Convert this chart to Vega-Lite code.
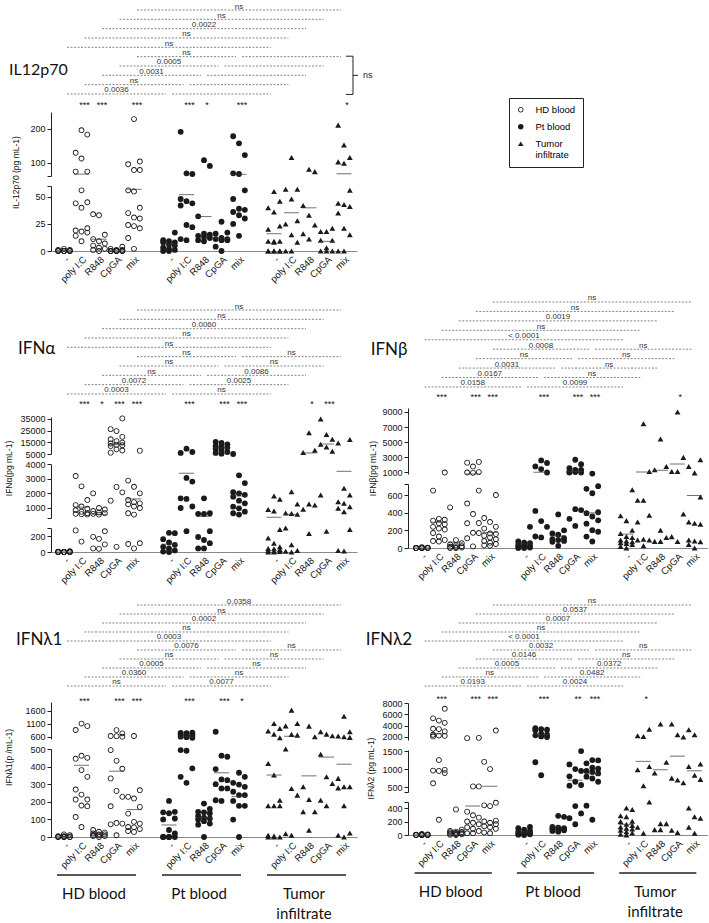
{
"$schema":"https://vega.github.io/schema/vega-lite/v6.json",
"padding":{"left":3,"top":0,"right":0,"bottom":0},
"config":{
 "view":{"stroke":null},
 "font":"Liberation Sans",
 "range":{"symbol":["M1,0A1,1,0,1,1,-1,0A1,1,0,1,1,1,0ZM0.7,0A0.7,0.7,0,1,0,-0.7,0A0.7,0.7,0,1,0,0.7,0Z","circle","triangle-up"]},
 "axis":{"grid":false,"labelFont":"Liberation Sans","titleFont":"Liberation Sans","labelColor":"#111","titleColor":"#111","titleFontWeight":"normal"},
 "axisY":{"labelFontSize":9,"tickSize":4,"domainColor":"#222","tickColor":"#222","labelPadding":2,"titleFontSize":8.5,"labelOverlap":false},
 "axisX":{"labelFontSize":9.5,"domainColor":"#888","ticks":false,"labelAngle":-45,"labelPadding":3,"labelOverlap":false},
 "legend":{"orient":"none","legendX":458,"legendY":98,"strokeColor":"#222","padding":7,"labelFontSize":9.5,"labelFont":"Liberation Sans","symbolSize":30,"rowPadding":5,"labelOffset":10}
},
"datasets":{
"struct":[
{"k":"1a","lvl":1,"from":"H4","to":"T4","mid":"P4"},
{"k":"2a","lvl":2,"from":"H3","to":"T3","mid":"P3"},
{"k":"3a","lvl":3,"from":"H2","to":"T2","mid":"P2"},
{"k":"4a","lvl":4,"from":"H1","to":"T1","mid":"P1"},
{"k":"5a","lvl":5,"from":"H0","to":"T0","mid":"P0"},
{"k":"6a","lvl":6,"from":"H4","to":"P4","mid":"P1"},
{"k":"6b","lvl":6,"from":"P4","to":"T4","mid":"T1"},
{"k":"7a","lvl":7,"from":"H3","to":"P3","mid":"P0"},
{"k":"7b","lvl":7,"from":"P3","to":"T3","mid":"T0"},
{"k":"8a","lvl":8,"from":"H2","to":"P2","mid":"s1"},
{"k":"8b","lvl":8,"from":"P2","to":"T2","mid":"s2"},
{"k":"9a","lvl":9,"from":"H1","to":"P1","mid":"H4"},
{"k":"9b","lvl":9,"from":"P1","to":"T1","mid":"P4"},
{"k":"10a","lvl":10,"from":"H0","to":"P0","mid":"H3"},
{"k":"10b","lvl":10,"from":"P0","to":"T0","mid":"P3"}
],
"sig":[
{"panel":"IL12p70","k":"1a","label":"ns"},{"panel":"IL12p70","k":"2a","label":"ns"},{"panel":"IL12p70","k":"3a","label":"0.0022"},{"panel":"IL12p70","k":"4a","label":"ns"},{"panel":"IL12p70","k":"5a","label":"ns"},
{"panel":"IL12p70","k":"6a","label":"ns"},{"panel":"IL12p70","k":"6b","label":""},{"panel":"IL12p70","k":"7a","label":"0.0005"},{"panel":"IL12p70","k":"7b","label":""},{"panel":"IL12p70","k":"8a","label":"0.0031"},{"panel":"IL12p70","k":"8b","label":""},{"panel":"IL12p70","k":"9a","label":"ns"},{"panel":"IL12p70","k":"9b","label":""},{"panel":"IL12p70","k":"10a","label":"0.0036"},{"panel":"IL12p70","k":"10b","label":""},
{"panel":"IFNa","k":"1a","label":"ns"},{"panel":"IFNa","k":"2a","label":"ns"},{"panel":"IFNa","k":"3a","label":"0.0060"},{"panel":"IFNa","k":"4a","label":"ns"},{"panel":"IFNa","k":"5a","label":"ns"},
{"panel":"IFNa","k":"6a","label":"ns"},{"panel":"IFNa","k":"6b","label":"ns"},{"panel":"IFNa","k":"7a","label":"ns"},{"panel":"IFNa","k":"7b","label":"ns"},{"panel":"IFNa","k":"8a","label":"ns"},{"panel":"IFNa","k":"8b","label":"0.0086"},{"panel":"IFNa","k":"9a","label":"0.0072"},{"panel":"IFNa","k":"9b","label":"0.0025"},{"panel":"IFNa","k":"10a","label":"0.0003"},{"panel":"IFNa","k":"10b","label":"ns"},
{"panel":"IFNb","k":"1a","label":"ns"},{"panel":"IFNb","k":"2a","label":"ns"},{"panel":"IFNb","k":"3a","label":"0.0019"},{"panel":"IFNb","k":"4a","label":"ns"},{"panel":"IFNb","k":"5a","label":"< 0.0001"},
{"panel":"IFNb","k":"6a","label":"0.0008"},{"panel":"IFNb","k":"6b","label":"ns"},{"panel":"IFNb","k":"7a","label":"ns"},{"panel":"IFNb","k":"7b","label":"ns"},{"panel":"IFNb","k":"8a","label":"0.0031"},{"panel":"IFNb","k":"8b","label":"ns"},{"panel":"IFNb","k":"9a","label":"0.0167"},{"panel":"IFNb","k":"9b","label":"ns"},{"panel":"IFNb","k":"10a","label":"0.0158"},{"panel":"IFNb","k":"10b","label":"0.0099"},
{"panel":"IFNl1","k":"1a","label":"0.0358"},{"panel":"IFNl1","k":"2a","label":"ns"},{"panel":"IFNl1","k":"3a","label":"0.0002"},{"panel":"IFNl1","k":"4a","label":"ns"},{"panel":"IFNl1","k":"5a","label":"0.0003"},
{"panel":"IFNl1","k":"6a","label":"0.0076"},{"panel":"IFNl1","k":"6b","label":"ns"},{"panel":"IFNl1","k":"7a","label":"ns"},{"panel":"IFNl1","k":"7b","label":"ns"},{"panel":"IFNl1","k":"8a","label":"0.0005"},{"panel":"IFNl1","k":"8b","label":"ns"},{"panel":"IFNl1","k":"9a","label":"0.0360"},{"panel":"IFNl1","k":"9b","label":"ns"},{"panel":"IFNl1","k":"10a","label":"ns"},{"panel":"IFNl1","k":"10b","label":"0.0077"},
{"panel":"IFNl2","k":"1a","label":"ns"},{"panel":"IFNl2","k":"2a","label":"0.0537"},{"panel":"IFNl2","k":"3a","label":"0.0007"},{"panel":"IFNl2","k":"4a","label":"ns"},{"panel":"IFNl2","k":"5a","label":"< 0.0001"},
{"panel":"IFNl2","k":"6a","label":"0.0032"},{"panel":"IFNl2","k":"6b","label":"ns"},{"panel":"IFNl2","k":"7a","label":"0.0146"},{"panel":"IFNl2","k":"7b","label":"ns"},{"panel":"IFNl2","k":"8a","label":"0.0005"},{"panel":"IFNl2","k":"8b","label":"0.0372"},{"panel":"IFNl2","k":"9a","label":"ns"},{"panel":"IFNl2","k":"9b","label":"0.0482"},{"panel":"IFNl2","k":"10a","label":"0.0193"},{"panel":"IFNl2","k":"10b","label":"0.0024"}
],
"stars":[
{"panel":"IL12p70","cat":"H1","label":"***"},{"panel":"IL12p70","cat":"H2","label":"***"},{"panel":"IL12p70","cat":"H4","label":"***"},{"panel":"IL12p70","cat":"P1","label":"***"},{"panel":"IL12p70","cat":"P2","label":"*"},{"panel":"IL12p70","cat":"P4","label":"***"},{"panel":"IL12p70","cat":"T4","label":"*"},
{"panel":"IFNa","cat":"H1","label":"***"},{"panel":"IFNa","cat":"H2","label":"*"},{"panel":"IFNa","cat":"H3","label":"***"},{"panel":"IFNa","cat":"H4","label":"***"},{"panel":"IFNa","cat":"P1","label":"***"},{"panel":"IFNa","cat":"P3","label":"***"},{"panel":"IFNa","cat":"P4","label":"***"},{"panel":"IFNa","cat":"T2","label":"*"},{"panel":"IFNa","cat":"T3","label":"***"},
{"panel":"IFNb","cat":"H1","label":"***"},{"panel":"IFNb","cat":"H3","label":"***"},{"panel":"IFNb","cat":"H4","label":"***"},{"panel":"IFNb","cat":"P1","label":"***"},{"panel":"IFNb","cat":"P3","label":"***"},{"panel":"IFNb","cat":"P4","label":"***"},{"panel":"IFNb","cat":"T3","label":"*"},
{"panel":"IFNl1","cat":"H1","label":"***"},{"panel":"IFNl1","cat":"H3","label":"***"},{"panel":"IFNl1","cat":"H4","label":"***"},{"panel":"IFNl1","cat":"P1","label":"***"},{"panel":"IFNl1","cat":"P3","label":"***"},{"panel":"IFNl1","cat":"P4","label":"*"},
{"panel":"IFNl2","cat":"H1","label":"***"},{"panel":"IFNl2","cat":"H3","label":"***"},{"panel":"IFNl2","cat":"H4","label":"***"},{"panel":"IFNl2","cat":"P1","label":"***"},{"panel":"IFNl2","cat":"P3","label":"**"},{"panel":"IFNl2","cat":"P4","label":"***"},{"panel":"IFNl2","cat":"T1","label":"*"}
],
"groups":[{"from":"H0","to":"H4","mid":"H2","label":"HD blood"},{"from":"P0","to":"P4","mid":"P2","label":"Pt blood"},{"from":"T0","to":"T4","mid":"T2","label":"Tumor\ninfiltrate"}],
"il12":[
{"cat":"H0","v":0},{"cat":"H0","v":0},{"cat":"H0","v":0},{"cat":"H0","v":0},{"cat":"H0","v":1},{"cat":"H0","v":1},{"cat":"H0","v":0},{"cat":"H0","v":0},{"cat":"H0","v":2},{"cat":"H0","v":0},
{"cat":"H1","v":196},{"cat":"H1","v":183},{"cat":"H1","v":129},{"cat":"H1","v":112},{"cat":"H1","v":73},{"cat":"H1","v":73},{"cat":"H1","v":56},{"cat":"H1","v":45},{"cat":"H1","v":44},{"cat":"H1","v":40},{"cat":"H1","v":21},{"cat":"H1","v":19},{"cat":"H1","v":18},{"cat":"H1","v":17},{"cat":"H1","v":14},{"cat":"H1","v":9},
{"cat":"H2","v":34},{"cat":"H2","v":33},{"cat":"H2","v":15},{"cat":"H2","v":11},{"cat":"H2","v":9},{"cat":"H2","v":7},{"cat":"H2","v":5},{"cat":"H2","v":3},{"cat":"H2","v":2},{"cat":"H2","v":1},{"cat":"H2","v":0},
{"cat":"H3","v":4},{"cat":"H3","v":2},{"cat":"H3","v":1},{"cat":"H3","v":1},{"cat":"H3","v":0},{"cat":"H3","v":0},{"cat":"H3","v":0},{"cat":"H3","v":0},{"cat":"H3","v":0},{"cat":"H3","v":0},{"cat":"H3","v":0},{"cat":"H3","v":0},
{"cat":"H4","v":229},{"cat":"H4","v":103},{"cat":"H4","v":95},{"cat":"H4","v":78},{"cat":"H4","v":78},{"cat":"H4","v":56},{"cat":"H4","v":55},{"cat":"H4","v":40},{"cat":"H4","v":35},{"cat":"H4","v":31},{"cat":"H4","v":30},{"cat":"H4","v":24},{"cat":"H4","v":23},{"cat":"H4","v":21},{"cat":"H4","v":12},{"cat":"H4","v":2},
{"cat":"P0","v":17},{"cat":"P0","v":10},{"cat":"P0","v":9},{"cat":"P0","v":8},{"cat":"P0","v":8},{"cat":"P0","v":6},{"cat":"P0","v":5},{"cat":"P0","v":3},{"cat":"P0","v":2},{"cat":"P0","v":1},{"cat":"P0","v":0},{"cat":"P0","v":0},
{"cat":"P1","v":191},{"cat":"P1","v":68},{"cat":"P1","v":66},{"cat":"P1","v":48},{"cat":"P1","v":46},{"cat":"P1","v":44},{"cat":"P1","v":42},{"cat":"P1","v":24},{"cat":"P1","v":22},{"cat":"P1","v":11},{"cat":"P1","v":10},
{"cat":"P2","v":107},{"cat":"P2","v":90},{"cat":"P2","v":32},{"cat":"P2","v":16},{"cat":"P2","v":15},{"cat":"P2","v":14},{"cat":"P2","v":13},{"cat":"P2","v":12},{"cat":"P2","v":10},{"cat":"P2","v":9},
{"cat":"P3","v":27},{"cat":"P3","v":17},{"cat":"P3","v":16},{"cat":"P3","v":12},{"cat":"P3","v":11},{"cat":"P3","v":11},{"cat":"P3","v":10},{"cat":"P3","v":10},{"cat":"P3","v":4},{"cat":"P3","v":0},
{"cat":"P4","v":178},{"cat":"P4","v":157},{"cat":"P4","v":122},{"cat":"P4","v":68},{"cat":"P4","v":66},{"cat":"P4","v":56},{"cat":"P4","v":48},{"cat":"P4","v":39},{"cat":"P4","v":38},{"cat":"P4","v":36},{"cat":"P4","v":33},{"cat":"P4","v":30},{"cat":"P4","v":25},{"cat":"P4","v":14},
{"cat":"T0","v":55},{"cat":"T0","v":46},{"cat":"T0","v":40},{"cat":"T0","v":36},{"cat":"T0","v":23},{"cat":"T0","v":20},{"cat":"T0","v":9},{"cat":"T0","v":9},{"cat":"T0","v":9},{"cat":"T0","v":8},{"cat":"T0","v":0},{"cat":"T0","v":0},{"cat":"T0","v":0},{"cat":"T0","v":0},{"cat":"T0","v":0},{"cat":"T0","v":0},
{"cat":"T1","v":115},{"cat":"T1","v":57},{"cat":"T1","v":57},{"cat":"T1","v":48},{"cat":"T1","v":28},{"cat":"T1","v":25},{"cat":"T1","v":15},{"cat":"T1","v":8},{"cat":"T1","v":0},{"cat":"T1","v":0},
{"cat":"T2","v":80},{"cat":"T2","v":73},{"cat":"T2","v":42},{"cat":"T2","v":33},{"cat":"T2","v":24},{"cat":"T2","v":16},{"cat":"T2","v":11},
{"cat":"T3","v":21},{"cat":"T3","v":18},{"cat":"T3","v":18},{"cat":"T3","v":10},{"cat":"T3","v":10},{"cat":"T3","v":3},{"cat":"T3","v":0},{"cat":"T3","v":0},{"cat":"T3","v":0},
{"cat":"T4","v":211},{"cat":"T4","v":152},{"cat":"T4","v":115},{"cat":"T4","v":102},{"cat":"T4","v":98},{"cat":"T4","v":56},{"cat":"T4","v":44},{"cat":"T4","v":43},{"cat":"T4","v":41},{"cat":"T4","v":35},{"cat":"T4","v":21},{"cat":"T4","v":15},{"cat":"T4","v":0},{"cat":"T4","v":0}
],
"ifna":[
{"cat":"H0","v":0},{"cat":"H0","v":0},{"cat":"H0","v":0},{"cat":"H0","v":0},{"cat":"H0","v":0},{"cat":"H0","v":0},{"cat":"H0","v":0},{"cat":"H0","v":0},{"cat":"H0","v":0},{"cat":"H0","v":0},{"cat":"H0","v":5},{"cat":"H0","v":10},
{"cat":"H1","v":3180},{"cat":"H1","v":2480},{"cat":"H1","v":1550},{"cat":"H1","v":1200},{"cat":"H1","v":1100},{"cat":"H1","v":950},{"cat":"H1","v":850},{"cat":"H1","v":750},{"cat":"H1","v":650},{"cat":"H1","v":600},{"cat":"H1","v":580},{"cat":"H1","v":560},{"cat":"H1","v":270},{"cat":"H1","v":130},
{"cat":"H2","v":2000},{"cat":"H2","v":1000},{"cat":"H2","v":900},{"cat":"H2","v":800},{"cat":"H2","v":700},{"cat":"H2","v":650},{"cat":"H2","v":600},{"cat":"H2","v":550},{"cat":"H2","v":260},{"cat":"H2","v":190},{"cat":"H2","v":165},{"cat":"H2","v":95},{"cat":"H2","v":45},{"cat":"H2","v":40},
{"cat":"H3","v":35500},{"cat":"H3","v":26300},{"cat":"H3","v":24600},{"cat":"H3","v":19700},{"cat":"H3","v":17700},{"cat":"H3","v":16000},{"cat":"H3","v":14800},{"cat":"H3","v":14000},{"cat":"H3","v":13000},{"cat":"H3","v":12500},{"cat":"H3","v":11900},{"cat":"H3","v":9000},{"cat":"H3","v":8000},{"cat":"H3","v":6150},{"cat":"H3","v":2440},{"cat":"H3","v":2070},{"cat":"H3","v":1500},{"cat":"H3","v":65},
{"cat":"H4","v":7880},{"cat":"H4","v":2870},{"cat":"H4","v":2450},{"cat":"H4","v":2000},{"cat":"H4","v":1550},{"cat":"H4","v":1400},{"cat":"H4","v":1320},{"cat":"H4","v":1250},{"cat":"H4","v":1100},{"cat":"H4","v":1000},{"cat":"H4","v":640},{"cat":"H4","v":550},{"cat":"H4","v":110},{"cat":"H4","v":100},{"cat":"H4","v":45},
{"cat":"P0","v":240},{"cat":"P0","v":235},{"cat":"P0","v":160},{"cat":"P0","v":120},{"cat":"P0","v":90},{"cat":"P0","v":65},{"cat":"P0","v":45},{"cat":"P0","v":20},{"cat":"P0","v":5},{"cat":"P0","v":0},
{"cat":"P1","v":9600},{"cat":"P1","v":6700},{"cat":"P1","v":5900},{"cat":"P1","v":3050},{"cat":"P1","v":2800},{"cat":"P1","v":1660},{"cat":"P1","v":1620},{"cat":"P1","v":1100},{"cat":"P1","v":1000},{"cat":"P1","v":260},
{"cat":"P2","v":1660},{"cat":"P2","v":640},{"cat":"P2","v":600},{"cat":"P2","v":590},{"cat":"P2","v":260},{"cat":"P2","v":187},{"cat":"P2","v":150},{"cat":"P2","v":110},{"cat":"P2","v":45},{"cat":"P2","v":45},
{"cat":"P3","v":15400},{"cat":"P3","v":14500},{"cat":"P3","v":13300},{"cat":"P3","v":11900},{"cat":"P3","v":11000},{"cat":"P3","v":10500},{"cat":"P3","v":9600},{"cat":"P3","v":8200},{"cat":"P3","v":6700},{"cat":"P3","v":5900},{"cat":"P3","v":5300},
{"cat":"P4","v":5000},{"cat":"P4","v":3230},{"cat":"P4","v":2700},{"cat":"P4","v":2080},{"cat":"P4","v":2000},{"cat":"P4","v":1900},{"cat":"P4","v":1770},{"cat":"P4","v":1500},{"cat":"P4","v":1320},{"cat":"P4","v":1090},{"cat":"P4","v":980},{"cat":"P4","v":750},{"cat":"P4","v":640},{"cat":"P4","v":550},
{"cat":"T0","v":1820},{"cat":"T0","v":1600},{"cat":"T0","v":900},{"cat":"T0","v":800},{"cat":"T0","v":280},{"cat":"T0","v":175},{"cat":"T0","v":110},{"cat":"T0","v":65},{"cat":"T0","v":45},{"cat":"T0","v":40},{"cat":"T0","v":30},{"cat":"T0","v":20},{"cat":"T0","v":10},{"cat":"T0","v":5},{"cat":"T0","v":0},{"cat":"T0","v":0},
{"cat":"T1","v":2110},{"cat":"T1","v":1270},{"cat":"T1","v":660},{"cat":"T1","v":620},{"cat":"T1","v":570},{"cat":"T1","v":300},{"cat":"T1","v":90},{"cat":"T1","v":20},{"cat":"T1","v":10},{"cat":"T1","v":0},
{"cat":"T2","v":23200},{"cat":"T2","v":8200},{"cat":"T2","v":6200},{"cat":"T2","v":1270},{"cat":"T2","v":1200},{"cat":"T2","v":910},{"cat":"T2","v":230},
{"cat":"T3","v":35000},{"cat":"T3","v":21700},{"cat":"T3","v":17700},{"cat":"T3","v":13400},{"cat":"T3","v":11000},{"cat":"T3","v":7300},{"cat":"T3","v":1890},{"cat":"T3","v":260},
{"cat":"T4","v":17400},{"cat":"T4","v":14500},{"cat":"T4","v":2340},{"cat":"T4","v":1890},{"cat":"T4","v":1430},{"cat":"T4","v":1320},{"cat":"T4","v":1090},{"cat":"T4","v":980},{"cat":"T4","v":750},{"cat":"T4","v":280},{"cat":"T4","v":20},{"cat":"T4","v":13}
],
"ifnb":[
{"cat":"H0","v":0},{"cat":"H0","v":0},{"cat":"H0","v":0},{"cat":"H0","v":0},{"cat":"H0","v":0},{"cat":"H0","v":0},{"cat":"H0","v":0},{"cat":"H0","v":0},{"cat":"H0","v":5},{"cat":"H0","v":10},
{"cat":"H1","v":1000},{"cat":"H1","v":650},{"cat":"H1","v":330},{"cat":"H1","v":320},{"cat":"H1","v":310},{"cat":"H1","v":280},{"cat":"H1","v":270},{"cat":"H1","v":240},{"cat":"H1","v":220},{"cat":"H1","v":210},{"cat":"H1","v":170},{"cat":"H1","v":130},{"cat":"H1","v":92},{"cat":"H1","v":80},{"cat":"H1","v":74},
{"cat":"H2","v":460},{"cat":"H2","v":90},{"cat":"H2","v":55},{"cat":"H2","v":40},{"cat":"H2","v":30},{"cat":"H2","v":20},{"cat":"H2","v":15},{"cat":"H2","v":10},{"cat":"H2","v":5},{"cat":"H2","v":0},{"cat":"H2","v":0},
{"cat":"H3","v":2400},{"cat":"H3","v":2300},{"cat":"H3","v":1800},{"cat":"H3","v":1050},{"cat":"H3","v":1000},{"cat":"H3","v":950},{"cat":"H3","v":650},{"cat":"H3","v":505},{"cat":"H3","v":386},{"cat":"H3","v":283},{"cat":"H3","v":280},{"cat":"H3","v":173},{"cat":"H3","v":170},{"cat":"H3","v":110},{"cat":"H3","v":18},
{"cat":"H4","v":600},{"cat":"H4","v":340},{"cat":"H4","v":295},{"cat":"H4","v":240},{"cat":"H4","v":220},{"cat":"H4","v":165},{"cat":"H4","v":160},{"cat":"H4","v":140},{"cat":"H4","v":120},{"cat":"H4","v":100},{"cat":"H4","v":80},{"cat":"H4","v":60},{"cat":"H4","v":45},{"cat":"H4","v":30},{"cat":"H4","v":25},
{"cat":"P0","v":240},{"cat":"P0","v":74},{"cat":"P0","v":60},{"cat":"P0","v":55},{"cat":"P0","v":40},{"cat":"P0","v":30},{"cat":"P0","v":20},{"cat":"P0","v":15},{"cat":"P0","v":10},{"cat":"P0","v":5},{"cat":"P0","v":0},{"cat":"P0","v":0},
{"cat":"P1","v":2600},{"cat":"P1","v":2250},{"cat":"P1","v":1800},{"cat":"P1","v":1450},{"cat":"P1","v":1000},{"cat":"P1","v":420},{"cat":"P1","v":305},{"cat":"P1","v":240},{"cat":"P1","v":130},{"cat":"P1","v":120},
{"cat":"P2","v":380},{"cat":"P2","v":200},{"cat":"P2","v":165},{"cat":"P2","v":150},{"cat":"P2","v":110},{"cat":"P2","v":100},{"cat":"P2","v":90},{"cat":"P2","v":80},{"cat":"P2","v":70},{"cat":"P2","v":25},
{"cat":"P3","v":2680},{"cat":"P3","v":2100},{"cat":"P3","v":1575},{"cat":"P3","v":1350},{"cat":"P3","v":1350},{"cat":"P3","v":1100},{"cat":"P3","v":1050},{"cat":"P3","v":1000},{"cat":"P3","v":1000},{"cat":"P3","v":440},{"cat":"P3","v":430},{"cat":"P3","v":330},{"cat":"P3","v":250},
{"cat":"P4","v":850},{"cat":"P4","v":700},{"cat":"P4","v":670},{"cat":"P4","v":620},{"cat":"P4","v":405},{"cat":"P4","v":395},{"cat":"P4","v":357},{"cat":"P4","v":313},{"cat":"P4","v":276},{"cat":"P4","v":202},{"cat":"P4","v":184},{"cat":"P4","v":129},{"cat":"P4","v":74},
{"cat":"T0","v":660},{"cat":"T0","v":365},{"cat":"T0","v":310},{"cat":"T0","v":200},{"cat":"T0","v":165},{"cat":"T0","v":130},{"cat":"T0","v":120},{"cat":"T0","v":90},{"cat":"T0","v":80},{"cat":"T0","v":70},{"cat":"T0","v":60},{"cat":"T0","v":50},{"cat":"T0","v":40},{"cat":"T0","v":18},{"cat":"T0","v":0},
{"cat":"T1","v":7450},{"cat":"T1","v":1130},{"cat":"T1","v":540},{"cat":"T1","v":540},{"cat":"T1","v":370},{"cat":"T1","v":295},{"cat":"T1","v":100},{"cat":"T1","v":90},{"cat":"T1","v":90},{"cat":"T1","v":26},
{"cat":"T2","v":5420},{"cat":"T2","v":1800},{"cat":"T2","v":1350},{"cat":"T2","v":200},{"cat":"T2","v":120},{"cat":"T2","v":75},{"cat":"T2","v":75},
{"cat":"T3","v":9000},{"cat":"T3","v":3000},{"cat":"T3","v":1130},{"cat":"T3","v":1130},{"cat":"T3","v":386},{"cat":"T3","v":129},{"cat":"T3","v":74},
{"cat":"T4","v":2680},{"cat":"T4","v":1800},{"cat":"T4","v":950},{"cat":"T4","v":578},{"cat":"T4","v":295},{"cat":"T4","v":280},{"cat":"T4","v":270},{"cat":"T4","v":90},{"cat":"T4","v":80},{"cat":"T4","v":70},{"cat":"T4","v":40},{"cat":"T4","v":0}
],
"ifnl1":[
{"cat":"H0","v":15},{"cat":"H0","v":10},{"cat":"H0","v":5},{"cat":"H0","v":5},{"cat":"H0","v":0},{"cat":"H0","v":0},{"cat":"H0","v":0},{"cat":"H0","v":0},{"cat":"H0","v":0},{"cat":"H0","v":0},
{"cat":"H1","v":1110},{"cat":"H1","v":1010},{"cat":"H1","v":860},{"cat":"H1","v":462},{"cat":"H1","v":450},{"cat":"H1","v":445},{"cat":"H1","v":380},{"cat":"H1","v":342},{"cat":"H1","v":270},{"cat":"H1","v":241},{"cat":"H1","v":213},{"cat":"H1","v":213},{"cat":"H1","v":179},{"cat":"H1","v":175},{"cat":"H1","v":114},{"cat":"H1","v":57},
{"cat":"H2","v":40},{"cat":"H2","v":30},{"cat":"H2","v":25},{"cat":"H2","v":20},{"cat":"H2","v":15},{"cat":"H2","v":15},{"cat":"H2","v":10},{"cat":"H2","v":10},{"cat":"H2","v":5},{"cat":"H2","v":5},{"cat":"H2","v":0},
{"cat":"H3","v":856},{"cat":"H3","v":730},{"cat":"H3","v":626},{"cat":"H3","v":620},{"cat":"H3","v":600},{"cat":"H3","v":494},{"cat":"H3","v":433},{"cat":"H3","v":388},{"cat":"H3","v":333},{"cat":"H3","v":262},{"cat":"H3","v":228},{"cat":"H3","v":175},{"cat":"H3","v":80},{"cat":"H3","v":76},{"cat":"H3","v":72},{"cat":"H3","v":10},
{"cat":"H4","v":626},{"cat":"H4","v":266},{"cat":"H4","v":228},{"cat":"H4","v":219},{"cat":"H4","v":171},{"cat":"H4","v":133},{"cat":"H4","v":86},{"cat":"H4","v":76},{"cat":"H4","v":57},{"cat":"H4","v":55},{"cat":"H4","v":45},{"cat":"H4","v":34},{"cat":"H4","v":29},
{"cat":"P0","v":205},{"cat":"P0","v":143},{"cat":"P0","v":140},{"cat":"P0","v":135},{"cat":"P0","v":105},{"cat":"P0","v":100},{"cat":"P0","v":40},{"cat":"P0","v":20},{"cat":"P0","v":0},{"cat":"P0","v":0},{"cat":"P0","v":0},{"cat":"P0","v":0},{"cat":"P0","v":0},
{"cat":"P1","v":760},{"cat":"P1","v":750},{"cat":"P1","v":740},{"cat":"P1","v":700},{"cat":"P1","v":680},{"cat":"P1","v":660},{"cat":"P1","v":640},{"cat":"P1","v":600},{"cat":"P1","v":580},{"cat":"P1","v":560},{"cat":"P1","v":494},{"cat":"P1","v":490},{"cat":"P1","v":390},{"cat":"P1","v":342},{"cat":"P1","v":308},
{"cat":"P2","v":190},{"cat":"P2","v":160},{"cat":"P2","v":143},{"cat":"P2","v":140},{"cat":"P2","v":135},{"cat":"P2","v":120},{"cat":"P2","v":110},{"cat":"P2","v":105},{"cat":"P2","v":100},{"cat":"P2","v":90},{"cat":"P2","v":76},{"cat":"P2","v":70},{"cat":"P2","v":0},
{"cat":"P3","v":792},{"cat":"P3","v":462},{"cat":"P3","v":456},{"cat":"P3","v":386},{"cat":"P3","v":327},{"cat":"P3","v":323},{"cat":"P3","v":300},{"cat":"P3","v":276},{"cat":"P3","v":276},{"cat":"P3","v":209},{"cat":"P3","v":205},
{"cat":"P4","v":365},{"cat":"P4","v":342},{"cat":"P4","v":308},{"cat":"P4","v":298},{"cat":"P4","v":285},{"cat":"P4","v":257},{"cat":"P4","v":238},{"cat":"P4","v":238},{"cat":"P4","v":205},{"cat":"P4","v":177},{"cat":"P4","v":177},{"cat":"P4","v":99},{"cat":"P4","v":0},
{"cat":"T0","v":1110},{"cat":"T0","v":920},{"cat":"T0","v":820},{"cat":"T0","v":700},{"cat":"T0","v":560},{"cat":"T0","v":418},{"cat":"T0","v":352},{"cat":"T0","v":209},{"cat":"T0","v":177},{"cat":"T0","v":177},{"cat":"T0","v":177},{"cat":"T0","v":10},{"cat":"T0","v":5},{"cat":"T0","v":0},{"cat":"T0","v":0},{"cat":"T0","v":0},
{"cat":"T1","v":1630},{"cat":"T1","v":1110},{"cat":"T1","v":1020},{"cat":"T1","v":690},{"cat":"T1","v":660},{"cat":"T1","v":500},{"cat":"T1","v":276},{"cat":"T1","v":238},{"cat":"T1","v":19},{"cat":"T1","v":10},
{"cat":"T2","v":1010},{"cat":"T2","v":600},{"cat":"T2","v":285},{"cat":"T2","v":213},{"cat":"T2","v":143},{"cat":"T2","v":143},{"cat":"T2","v":38},
{"cat":"T3","v":790},{"cat":"T3","v":700},{"cat":"T3","v":640},{"cat":"T3","v":470},{"cat":"T3","v":342},{"cat":"T3","v":304},{"cat":"T3","v":209},{"cat":"T3","v":177},
{"cat":"T4","v":1395},{"cat":"T4","v":790},{"cat":"T4","v":626},{"cat":"T4","v":600},{"cat":"T4","v":574},{"cat":"T4","v":333},{"cat":"T4","v":285},{"cat":"T4","v":285},{"cat":"T4","v":279},{"cat":"T4","v":177},{"cat":"T4","v":23},{"cat":"T4","v":10},{"cat":"T4","v":0}
],
"ifnl2":[
{"cat":"H0","v":0},{"cat":"H0","v":0},{"cat":"H0","v":0},{"cat":"H0","v":0},{"cat":"H0","v":0},{"cat":"H0","v":0},{"cat":"H0","v":0},{"cat":"H0","v":5},{"cat":"H0","v":10},{"cat":"H0","v":15},
{"cat":"H1","v":7000},{"cat":"H1","v":5300},{"cat":"H1","v":4900},{"cat":"H1","v":4500},{"cat":"H1","v":3450},{"cat":"H1","v":3400},{"cat":"H1","v":3000},{"cat":"H1","v":2400},{"cat":"H1","v":2250},{"cat":"H1","v":2200},{"cat":"H1","v":2100},{"cat":"H1","v":1250},{"cat":"H1","v":980},{"cat":"H1","v":960},{"cat":"H1","v":950},{"cat":"H1","v":890},{"cat":"H1","v":607},{"cat":"H1","v":227},
{"cat":"H2","v":380},{"cat":"H2","v":80},{"cat":"H2","v":60},{"cat":"H2","v":50},{"cat":"H2","v":45},{"cat":"H2","v":40},{"cat":"H2","v":30},{"cat":"H2","v":25},{"cat":"H2","v":20},{"cat":"H2","v":15},{"cat":"H2","v":10},{"cat":"H2","v":5},{"cat":"H2","v":0},
{"cat":"H3","v":1850},{"cat":"H3","v":1800},{"cat":"H3","v":520},{"cat":"H3","v":520},{"cat":"H3","v":347},{"cat":"H3","v":293},{"cat":"H3","v":258},{"cat":"H3","v":200},{"cat":"H3","v":182},{"cat":"H3","v":160},{"cat":"H3","v":116},{"cat":"H3","v":93},{"cat":"H3","v":60},{"cat":"H3","v":27},{"cat":"H3","v":27},
{"cat":"H4","v":3150},{"cat":"H4","v":1200},{"cat":"H4","v":1000},{"cat":"H4","v":480},{"cat":"H4","v":440},{"cat":"H4","v":430},{"cat":"H4","v":213},{"cat":"H4","v":200},{"cat":"H4","v":182},{"cat":"H4","v":160},{"cat":"H4","v":129},{"cat":"H4","v":116},{"cat":"H4","v":93},{"cat":"H4","v":36},{"cat":"H4","v":27},
{"cat":"P0","v":120},{"cat":"P0","v":100},{"cat":"P0","v":80},{"cat":"P0","v":60},{"cat":"P0","v":50},{"cat":"P0","v":40},{"cat":"P0","v":30},{"cat":"P0","v":20},{"cat":"P0","v":15},{"cat":"P0","v":10},{"cat":"P0","v":5},{"cat":"P0","v":0},
{"cat":"P1","v":3550},{"cat":"P1","v":3400},{"cat":"P1","v":3300},{"cat":"P1","v":3200},{"cat":"P1","v":2580},{"cat":"P1","v":2400},{"cat":"P1","v":2300},{"cat":"P1","v":2100},{"cat":"P1","v":2000},{"cat":"P1","v":1190},{"cat":"P1","v":830},
{"cat":"P2","v":285},{"cat":"P2","v":270},{"cat":"P2","v":120},{"cat":"P2","v":110},{"cat":"P2","v":100},{"cat":"P2","v":90},{"cat":"P2","v":80},{"cat":"P2","v":70},{"cat":"P2","v":60},{"cat":"P2","v":50},
{"cat":"P3","v":1500},{"cat":"P3","v":1130},{"cat":"P3","v":1000},{"cat":"P3","v":950},{"cat":"P3","v":800},{"cat":"P3","v":650},{"cat":"P3","v":560},{"cat":"P3","v":540},{"cat":"P3","v":430},{"cat":"P3","v":320},{"cat":"P3","v":250},{"cat":"P3","v":160},
{"cat":"P4","v":1250},{"cat":"P4","v":1240},{"cat":"P4","v":1160},{"cat":"P4","v":1040},{"cat":"P4","v":1010},{"cat":"P4","v":950},{"cat":"P4","v":920},{"cat":"P4","v":880},{"cat":"P4","v":790},{"cat":"P4","v":740},{"cat":"P4","v":650},{"cat":"P4","v":436},{"cat":"P4","v":227},
{"cat":"T0","v":400},{"cat":"T0","v":380},{"cat":"T0","v":285},{"cat":"T0","v":270},{"cat":"T0","v":205},{"cat":"T0","v":200},{"cat":"T0","v":160},{"cat":"T0","v":140},{"cat":"T0","v":120},{"cat":"T0","v":100},{"cat":"T0","v":90},{"cat":"T0","v":70},{"cat":"T0","v":50},{"cat":"T0","v":30},{"cat":"T0","v":10},{"cat":"T0","v":0},
{"cat":"T1","v":3380},{"cat":"T1","v":2230},{"cat":"T1","v":2100},{"cat":"T1","v":1070},{"cat":"T1","v":980},{"cat":"T1","v":540},{"cat":"T1","v":490},{"cat":"T1","v":116},{"cat":"T1","v":27},
{"cat":"T2","v":4300},{"cat":"T2","v":1190},{"cat":"T2","v":890},{"cat":"T2","v":169},{"cat":"T2","v":169},{"cat":"T2","v":80},{"cat":"T2","v":80},
{"cat":"T3","v":4300},{"cat":"T3","v":2400},{"cat":"T3","v":2000},{"cat":"T3","v":750},{"cat":"T3","v":700},{"cat":"T3","v":620},{"cat":"T3","v":70},{"cat":"T3","v":36},
{"cat":"T4","v":3270},{"cat":"T4","v":2400},{"cat":"T4","v":1140},{"cat":"T4","v":1070},{"cat":"T4","v":830},{"cat":"T4","v":715},{"cat":"T4","v":400},{"cat":"T4","v":271},{"cat":"T4","v":249},{"cat":"T4","v":116},{"cat":"T4","v":27}
]
},
"spacing":-8,
"hconcat":[
{"vconcat":[
 {"width":306,"height":102,"layer":[
  {"data":{"name":"sig"},"transform":[{"filter":"datum.panel=='IL12p70'"},{"lookup":"k","from":{"data":{"name":"struct"},"key":"k","fields":["lvl","from","to","mid"]}}],
   "mark":{"type":"rule","strokeDash":[2,1.5],"color":"#666","strokeWidth":0.8,"xOffset":3,"x2Offset":-3},
   "encoding":{"x":{"field":"from","type":"nominal","scale":{"type":"band","domain":["H0","H1","H2","H3","H4","s1","P0","P1","P2","P3","P4","s2","T0","T1","T2","T3","T4"],"paddingInner":0,"paddingOuter":0.243},"axis":null},"x2":{"field":"to"},"y":{"field":"lvl","type":"quantitative","scale":{"domain":[-0.072,10.86],"reverse":true,"zero":false,"nice":false},"axis":null}}},
  {"data":{"name":"sig"},"transform":[{"filter":"datum.panel=='IL12p70'"},{"lookup":"k","from":{"data":{"name":"struct"},"key":"k","fields":["lvl","from","to","mid"]}}],
   "mark":{"type":"text","fontSize":8,"fill":"#333","baseline":"alphabetic","dy":-1.5},
   "encoding":{"x":{"field":"mid","type":"nominal","axis":null},"y":{"field":"lvl","type":"quantitative","axis":null},"text":{"field":"label"}}},
  {"data":{"name":"stars"},"transform":[{"filter":"datum.panel=='IL12p70'"}],"mark":{"type":"text","fontSize":9,"dx":3,"baseline":"middle","fill":"#111"},
   "encoding":{"x":{"field":"cat","type":"nominal","axis":null},"y":{"datum":11.2,"type":"quantitative"},"text":{"field":"label"}}},
  {"data":{"values":[{}]},"mark":{"type":"text","text":"IL12p70","font":"Lato","fontSize":16,"align":"left","baseline":"middle","dx":-55,"fill":"#111"},
   "encoding":{"x":{"datum":"H0","type":"nominal"},"y":{"datum":7.43,"type":"quantitative"}}},
  {"data":{"values":[{}]},"mark":{"type":"rule","color":"#222","strokeWidth":1,"xOffset":9},"encoding":{"x":{"datum":"T4","type":"nominal"},"y":{"datum":5.95,"type":"quantitative"},"y2":{"datum":10.05}}},
  {"data":{"values":[{}]},"mark":{"type":"rule","color":"#222","strokeWidth":1,"xOffset":2,"x2Offset":9},"encoding":{"x":{"datum":"T4","type":"nominal"},"x2":{"datum":"T4"},"y":{"datum":5.95,"type":"quantitative"}}},
  {"data":{"values":[{}]},"mark":{"type":"rule","color":"#222","strokeWidth":1,"xOffset":2,"x2Offset":9},"encoding":{"x":{"datum":"T4","type":"nominal"},"x2":{"datum":"T4"},"y":{"datum":10.05,"type":"quantitative"}}},
  {"data":{"values":[{}]},"mark":{"type":"rule","color":"#222","strokeWidth":1,"xOffset":9,"x2Offset":14},"encoding":{"x":{"datum":"T4","type":"nominal"},"x2":{"datum":"T4"},"y":{"datum":8,"type":"quantitative"}}},
  {"data":{"values":[{}]},"mark":{"type":"text","text":"ns","fontSize":9,"align":"left","baseline":"middle","dx":19,"fill":"#222"},"encoding":{"x":{"datum":"T4","type":"nominal"},"y":{"datum":8,"type":"quantitative"}}}
 ]},
 {"width":306,"height":64,"data":{"name":"il12"},
  "transform":[{"calculate":"substring(datum.cat,0,1)","as":"grp"},{"window":[{"op":"row_number","as":"rn"}],"groupby":["cat"],"sort":[{"field":"v"}]},{"calculate":"datum.rn%3","as":"col"}],
  "layer":[
   {"transform":[{"filter":"datum.v>60"}],"mark":{"type":"point","filled":true,"size":34,"color":"#1a1a1a","opacity":1},
    "encoding":{"x":{"field":"cat","type":"nominal","scale":{"type":"band","domain":["H0","H1","H2","H3","H4","s1","P0","P1","P2","P3","P4","s2","T0","T1","T2","T3","T4"],"paddingInner":0,"paddingOuter":0.243},"axis":null},
     "xOffset":{"field":"col","type":"ordinal","scale":{"domain":[2,1,0]}},
     "y":{"field":"v","type":"quantitative","scale":{"domain":[60,250],"zero":false,"nice":false},"axis":{"values":[60,100,200],"tickCount":20,"labelExpr":"datum.value==60 ? '' : datum.label","format":"d","title":"IL-12p70 (pg mL-1)","titleX":-31,"titleY":60}},
     "shape":{"field":"grp","type":"nominal","legend":{"title":null,"labelExpr":"datum.label=='H' ? 'HD blood' : datum.label=='P' ? 'Pt blood' : ['Tumor','infiltrate']"}}}},
   {"transform":[{"aggregate":[{"op":"mean","field":"v","as":"v"}],"groupby":["cat"]},{"filter":"datum.v>60"}],"mark":{"type":"tick","color":"#333","thickness":1,"size":15},
    "encoding":{"x":{"field":"cat","type":"nominal","axis":null},"y":{"field":"v","type":"quantitative"}}}
  ]},
 {"width":306,"height":65,"data":{"name":"il12"},
  "transform":[{"calculate":"substring(datum.cat,0,1)","as":"grp"},{"window":[{"op":"row_number","as":"rn"}],"groupby":["cat"],"sort":[{"field":"v"}]},{"calculate":"datum.rn%3","as":"col"}],
  "layer":[
   {"transform":[{"filter":"datum.v<=60"}],"mark":{"type":"point","filled":true,"size":34,"color":"#1a1a1a","opacity":1},
    "encoding":{"x":{"field":"cat","type":"nominal","scale":{"type":"band","domain":["H0","H1","H2","H3","H4","s1","P0","P1","P2","P3","P4","s2","T0","T1","T2","T3","T4"],"paddingInner":0,"paddingOuter":0.243},"axis":{"title":null,"labelExpr":"substring(datum.value,0,1)=='s' ? '' : ['-','poly I:C','R848','CpGA','mix'][toNumber(substring(datum.value,1,2))]"}},
     "xOffset":{"field":"col","type":"ordinal","scale":{"domain":[2,1,0]}},
     "y":{"field":"v","type":"quantitative","scale":{"domain":[0,60],"zero":false,"nice":false},"axis":{"values":[0,25,50,60],"tickCount":20,"labelExpr":"datum.value==60 ? '' : datum.label","format":"d","title":null}},
     "shape":{"field":"grp","type":"nominal","legend":null}}},
   {"transform":[{"aggregate":[{"op":"mean","field":"v","as":"v"}],"groupby":["cat"]},{"filter":"datum.v<=60"}],"mark":{"type":"tick","color":"#333","thickness":1,"size":15},
    "encoding":{"x":{"field":"cat","type":"nominal"},"y":{"field":"v","type":"quantitative"}}}
  ]},
 {"width":306,"height":146,"layer":[
  {"data":{"name":"sig"},"transform":[{"filter":"datum.panel=='IFNa'"},{"lookup":"k","from":{"data":{"name":"struct"},"key":"k","fields":["lvl","from","to","mid"]}}],
   "mark":{"type":"rule","strokeDash":[2,1.5],"color":"#666","strokeWidth":0.8,"xOffset":3,"x2Offset":-3},
   "encoding":{"x":{"field":"from","type":"nominal","scale":{"type":"band","domain":["H0","H1","H2","H3","H4","s1","P0","P1","P2","P3","P4","s2","T0","T1","T2","T3","T4"],"paddingInner":0,"paddingOuter":0.243},"axis":null},"x2":{"field":"to"},"y":{"field":"lvl","type":"quantitative","scale":{"domain":[-4.252,11.396],"reverse":true,"zero":false,"nice":false},"axis":null}}},
  {"data":{"name":"sig"},"transform":[{"filter":"datum.panel=='IFNa'"},{"lookup":"k","from":{"data":{"name":"struct"},"key":"k","fields":["lvl","from","to","mid"]}}],
   "mark":{"type":"text","fontSize":8,"fill":"#333","baseline":"alphabetic","dy":-1.5},
   "encoding":{"x":{"field":"mid","type":"nominal","axis":null},"y":{"field":"lvl","type":"quantitative","axis":null},"text":{"field":"label"}}},
  {"data":{"name":"stars"},"transform":[{"filter":"datum.panel=='IFNa'"}],"mark":{"type":"text","fontSize":9,"dx":3,"baseline":"middle","fill":"#111"},
   "encoding":{"x":{"field":"cat","type":"nominal","axis":null},"y":{"datum":11.07,"type":"quantitative"},"text":{"field":"label"}}},
  {"data":{"values":[{}]},"mark":{"type":"text","text":"IFNα","font":"Lato","fontSize":17,"align":"left","baseline":"middle","dx":-46,"fill":"#111"},
   "encoding":{"x":{"datum":"H0","type":"nominal"},"y":{"datum":5.18,"type":"quantitative"}}}
 ]},
 {"width":306,"height":37,"data":{"name":"ifna"},
  "transform":[{"calculate":"substring(datum.cat,0,1)","as":"grp"},{"window":[{"op":"row_number","as":"rn"}],"groupby":["cat"],"sort":[{"field":"v"}]},{"calculate":"datum.rn%3","as":"col"}],
  "layer":[
   {"transform":[{"filter":"datum.v>=4500"}],"mark":{"type":"point","filled":true,"size":34,"color":"#1a1a1a","opacity":1},
    "encoding":{"x":{"field":"cat","type":"nominal","scale":{"type":"band","domain":["H0","H1","H2","H3","H4","s1","P0","P1","P2","P3","P4","s2","T0","T1","T2","T3","T4"],"paddingInner":0,"paddingOuter":0.243},"axis":null},
     "xOffset":{"field":"col","type":"ordinal","scale":{"domain":[2,1,0]}},
     "y":{"field":"v","type":"quantitative","scale":{"domain":[5000,36700],"zero":false,"nice":false},"axis":{"values":[5000,15000,25000,35000],"tickCount":20,"format":"d","title":null}},
     "shape":{"field":"grp","type":"nominal","legend":null}}},
   {"transform":[{"aggregate":[{"op":"mean","field":"v","as":"v"}],"groupby":["cat"]},{"filter":"datum.v>=4500"}],"mark":{"type":"tick","color":"#333","thickness":1,"size":15},
    "encoding":{"x":{"field":"cat","type":"nominal","axis":null},"y":{"field":"v","type":"quantitative"}}}
  ]},
 {"width":306,"height":54,"data":{"name":"ifna"},
  "transform":[{"calculate":"substring(datum.cat,0,1)","as":"grp"},{"window":[{"op":"row_number","as":"rn"}],"groupby":["cat"],"sort":[{"field":"v"}]},{"calculate":"datum.rn%3","as":"col"}],
  "layer":[
   {"transform":[{"filter":"datum.v>=310 && datum.v<4500"}],"mark":{"type":"point","filled":true,"size":34,"color":"#1a1a1a","opacity":1},
    "encoding":{"x":{"field":"cat","type":"nominal","scale":{"type":"band","domain":["H0","H1","H2","H3","H4","s1","P0","P1","P2","P3","P4","s2","T0","T1","T2","T3","T4"],"paddingInner":0,"paddingOuter":0.243},"axis":null},
     "xOffset":{"field":"col","type":"ordinal","scale":{"domain":[2,1,0]}},
     "y":{"field":"v","type":"quantitative","scale":{"domain":[318,4000],"zero":false,"nice":false},"axis":{"values":[318,1000,2000,3000,4000],"tickCount":20,"labelExpr":"datum.value==318 ? '' : datum.label","format":"d","title":"IFNα(pg mL-1)","titleX":-38,"titleY":4}},
     "shape":{"field":"grp","type":"nominal","legend":null}}},
   {"transform":[{"aggregate":[{"op":"mean","field":"v","as":"v"}],"groupby":["cat"]},{"filter":"datum.v>=310 && datum.v<4500"}],"mark":{"type":"tick","color":"#333","thickness":1,"size":15},
    "encoding":{"x":{"field":"cat","type":"nominal","axis":null},"y":{"field":"v","type":"quantitative"}}}
  ]},
 {"width":306,"height":24,"data":{"name":"ifna"},
  "transform":[{"calculate":"substring(datum.cat,0,1)","as":"grp"},{"window":[{"op":"row_number","as":"rn"}],"groupby":["cat"],"sort":[{"field":"v"}]},{"calculate":"datum.rn%3","as":"col"}],
  "layer":[
   {"transform":[{"filter":"datum.v<310"}],"mark":{"type":"point","filled":true,"size":34,"color":"#1a1a1a","opacity":1},
    "encoding":{"x":{"field":"cat","type":"nominal","scale":{"type":"band","domain":["H0","H1","H2","H3","H4","s1","P0","P1","P2","P3","P4","s2","T0","T1","T2","T3","T4"],"paddingInner":0,"paddingOuter":0.243},"axis":{"title":null,"labelExpr":"substring(datum.value,0,1)=='s' ? '' : ['-','poly I:C','R848','CpGA','mix'][toNumber(substring(datum.value,1,2))]"}},
     "xOffset":{"field":"col","type":"ordinal","scale":{"domain":[2,1,0]}},
     "y":{"field":"v","type":"quantitative","scale":{"domain":[0,300],"zero":false,"nice":false},"axis":{"values":[0,200,300],"tickCount":20,"labelExpr":"datum.value==300 ? '' : datum.label","format":"d","title":null}},
     "shape":{"field":"grp","type":"nominal","legend":null}}},
   {"transform":[{"aggregate":[{"op":"mean","field":"v","as":"v"}],"groupby":["cat"]},{"filter":"datum.v<310"}],"mark":{"type":"tick","color":"#333","thickness":1,"size":15},
    "encoding":{"x":{"field":"cat","type":"nominal"},"y":{"field":"v","type":"quantitative"}}}
  ]},
 {"width":306,"height":130,"layer":[
  {"data":{"name":"sig"},"transform":[{"filter":"datum.panel=='IFNl1'"},{"lookup":"k","from":{"data":{"name":"struct"},"key":"k","fields":["lvl","from","to","mid"]}}],
   "mark":{"type":"rule","strokeDash":[2,1.5],"color":"#666","strokeWidth":0.8,"xOffset":3,"x2Offset":-3},
   "encoding":{"x":{"field":"from","type":"nominal","scale":{"type":"band","domain":["H0","H1","H2","H3","H4","s1","P0","P1","P2","P3","P4","s2","T0","T1","T2","T3","T4"],"paddingInner":0,"paddingOuter":0.243},"axis":null},"x2":{"field":"to"},"y":{"field":"lvl","type":"quantitative","scale":{"domain":[-3.778,10.667],"reverse":true,"zero":false,"nice":false},"axis":null}}},
  {"data":{"name":"sig"},"transform":[{"filter":"datum.panel=='IFNl1'"},{"lookup":"k","from":{"data":{"name":"struct"},"key":"k","fields":["lvl","from","to","mid"]}}],
   "mark":{"type":"text","fontSize":8,"fill":"#333","baseline":"alphabetic","dy":-1.5},
   "encoding":{"x":{"field":"mid","type":"nominal","axis":null},"y":{"field":"lvl","type":"quantitative","axis":null},"text":{"field":"label"}}},
  {"data":{"name":"stars"},"transform":[{"filter":"datum.panel=='IFNl1'"}],"mark":{"type":"text","fontSize":9,"dx":3,"baseline":"middle","fill":"#111"},
   "encoding":{"x":{"field":"cat","type":"nominal","axis":null},"y":{"datum":11.67,"type":"quantitative"},"text":{"field":"label"}}},
  {"data":{"values":[{}]},"mark":{"type":"text","text":"IFNλ1","font":"Lato","fontSize":17,"align":"left","baseline":"middle","dx":-48,"fill":"#111"},
   "encoding":{"x":{"datum":"H0","type":"nominal"},"y":{"datum":4.889,"type":"quantitative"}}}
 ]},
 {"width":306,"height":37,"data":{"name":"ifnl1"},
  "transform":[{"calculate":"substring(datum.cat,0,1)","as":"grp"},{"window":[{"op":"row_number","as":"rn"}],"groupby":["cat"],"sort":[{"field":"v"}]},{"calculate":"datum.rn%3","as":"col"}],
  "layer":[
   {"transform":[{"filter":"datum.v>=510"}],"mark":{"type":"point","filled":true,"size":34,"color":"#1a1a1a","opacity":1},
    "encoding":{"x":{"field":"cat","type":"nominal","scale":{"type":"band","domain":["H0","H1","H2","H3","H4","s1","P0","P1","P2","P3","P4","s2","T0","T1","T2","T3","T4"],"paddingInner":0,"paddingOuter":0.243},"axis":null},
     "xOffset":{"field":"col","type":"ordinal","scale":{"domain":[2,1,0]}},
     "y":{"field":"v","type":"quantitative","scale":{"domain":[510,1946],"zero":false,"nice":false},"axis":{"values":[600,1100,1600],"tickCount":20,"format":"d","title":null}},
     "shape":{"field":"grp","type":"nominal","legend":null}}},
   {"transform":[{"aggregate":[{"op":"mean","field":"v","as":"v"}],"groupby":["cat"]},{"filter":"datum.v>=510"}],"mark":{"type":"tick","color":"#333","thickness":1,"size":15},
    "encoding":{"x":{"field":"cat","type":"nominal","axis":null},"y":{"field":"v","type":"quantitative"}}}
  ]},
 {"width":306,"height":88,"data":{"name":"ifnl1"},
  "transform":[{"calculate":"substring(datum.cat,0,1)","as":"grp"},{"window":[{"op":"row_number","as":"rn"}],"groupby":["cat"],"sort":[{"field":"v"}]},{"calculate":"datum.rn%3","as":"col"}],
  "layer":[
   {"transform":[{"filter":"datum.v<510"}],"mark":{"type":"point","filled":true,"size":34,"color":"#1a1a1a","opacity":1},
    "encoding":{"x":{"field":"cat","type":"nominal","scale":{"type":"band","domain":["H0","H1","H2","H3","H4","s1","P0","P1","P2","P3","P4","s2","T0","T1","T2","T3","T4"],"paddingInner":0,"paddingOuter":0.243},"axis":{"title":null,"labelExpr":"substring(datum.value,0,1)=='s' ? '' : ['-','poly I:C','R848','CpGA','mix'][toNumber(substring(datum.value,1,2))]"}},
     "xOffset":{"field":"col","type":"ordinal","scale":{"domain":[2,1,0]}},
     "y":{"field":"v","type":"quantitative","scale":{"domain":[0,500],"zero":false,"nice":false},"axis":{"values":[0,100,200,300,400,500],"tickCount":20,"format":"d","title":"IFNλ1(p /mL-1)","titleX":-38,"titleY":8}},
     "shape":{"field":"grp","type":"nominal","legend":null}}},
   {"transform":[{"aggregate":[{"op":"mean","field":"v","as":"v"}],"groupby":["cat"]},{"filter":"datum.v<510"}],"mark":{"type":"tick","color":"#333","thickness":1,"size":15},
    "encoding":{"x":{"field":"cat","type":"nominal"},"y":{"field":"v","type":"quantitative"}}}
  ]},
 {"width":306,"height":45,"data":{"name":"groups"},"layer":[
  {"mark":{"type":"rule","color":"#222","strokeWidth":1.3,"xOffset":-7,"x2Offset":2},
   "encoding":{"x":{"field":"from","type":"nominal","scale":{"type":"band","domain":["H0","H1","H2","H3","H4","s1","P0","P1","P2","P3","P4","s2","T0","T1","T2","T3","T4"],"paddingInner":0,"paddingOuter":0.243},"axis":null},"x2":{"field":"to"},"y":{"datum":1.867,"type":"quantitative","scale":{"domain":[0,3],"reverse":true,"zero":false,"nice":false},"axis":null}}},
  {"mark":{"type":"text","baseline":"top","fontSize":15,"font":"Lato","lineBreak":"\n","lineHeight":20,"dx":-5,"fill":"#111"},
   "encoding":{"x":{"field":"mid","type":"nominal","axis":null},"y":{"datum":2.67,"type":"quantitative"},"text":{"field":"label"}}}
 ]}
],"spacing":10,"bounds":"flush"},
{"vconcat":[
 {"width":300,"height":398,"layer":[
  {"data":{"name":"sig"},"transform":[{"filter":"datum.panel=='IFNb'"},{"lookup":"k","from":{"data":{"name":"struct"},"key":"k","fields":["lvl","from","to","mid"]}}],
   "mark":{"type":"rule","strokeDash":[2,1.5],"color":"#666","strokeWidth":0.8,"xOffset":3,"x2Offset":-3},
   "encoding":{"x":{"field":"from","type":"nominal","scale":{"type":"band","domain":["H0","H1","H2","H3","H4","s1","P0","P1","P2","P3","P4","s2","T0","T1","T2","T3","T4"],"paddingInner":0,"paddingOuter":0.3},"axis":null},"x2":{"field":"to"},"y":{"field":"lvl","type":"quantitative","scale":{"domain":[-30.99,11.17],"reverse":true,"zero":false,"nice":false},"axis":null}}},
  {"data":{"name":"sig"},"transform":[{"filter":"datum.panel=='IFNb'"},{"lookup":"k","from":{"data":{"name":"struct"},"key":"k","fields":["lvl","from","to","mid"]}}],
   "mark":{"type":"text","fontSize":8,"fill":"#333","baseline":"alphabetic","dy":-1.5},
   "encoding":{"x":{"field":"mid","type":"nominal","axis":null},"y":{"field":"lvl","type":"quantitative","axis":null},"text":{"field":"label"}}},
  {"data":{"name":"stars"},"transform":[{"filter":"datum.panel=='IFNb'"}],"mark":{"type":"text","fontSize":9,"dx":3,"baseline":"middle","fill":"#111"},
   "encoding":{"x":{"field":"cat","type":"nominal","axis":null},"y":{"datum":11.07,"type":"quantitative"},"text":{"field":"label"}}},
  {"data":{"values":[{}]},"mark":{"type":"text","text":"IFNβ","font":"Lato","fontSize":17,"align":"left","baseline":"middle","dx":-51,"fill":"#111"},
   "encoding":{"x":{"datum":"H0","type":"nominal"},"y":{"datum":6.087,"type":"quantitative"}}}
 ]},
 {"width":300,"height":66,"data":{"name":"ifnb"},
  "transform":[{"calculate":"substring(datum.cat,0,1)","as":"grp"},{"window":[{"op":"row_number","as":"rn"}],"groupby":["cat"],"sort":[{"field":"v"}]},{"calculate":"datum.rn%3","as":"col"}],
  "layer":[
   {"transform":[{"filter":"datum.v>=800"}],"mark":{"type":"point","filled":true,"size":34,"color":"#1a1a1a","opacity":1},
    "encoding":{"x":{"field":"cat","type":"nominal","scale":{"type":"band","domain":["H0","H1","H2","H3","H4","s1","P0","P1","P2","P3","P4","s2","T0","T1","T2","T3","T4"],"paddingInner":0,"paddingOuter":0.3},"axis":null},
     "xOffset":{"field":"col","type":"ordinal","scale":{"domain":[2,1,0]}},
     "y":{"field":"v","type":"quantitative","scale":{"domain":[800,9525],"zero":false,"nice":false},"axis":{"values":[1000,3000,5000,7000,9000],"tickCount":20,"format":"d","title":"IFNβ(pg mL-1)","titleX":-31,"titleY":60}},
     "shape":{"field":"grp","type":"nominal","legend":null}}},
   {"transform":[{"aggregate":[{"op":"mean","field":"v","as":"v"}],"groupby":["cat"]},{"filter":"datum.v>=800"}],"mark":{"type":"tick","color":"#333","thickness":1,"size":15},
    "encoding":{"x":{"field":"cat","type":"nominal","axis":null},"y":{"field":"v","type":"quantitative"}}}
  ]},
 {"width":300,"height":64,"data":{"name":"ifnb"},
  "transform":[{"calculate":"substring(datum.cat,0,1)","as":"grp"},{"window":[{"op":"row_number","as":"rn"}],"groupby":["cat"],"sort":[{"field":"v"}]},{"calculate":"datum.rn%3","as":"col"}],
  "layer":[
   {"transform":[{"filter":"datum.v<800"}],"mark":{"type":"point","filled":true,"size":34,"color":"#1a1a1a","opacity":1},
    "encoding":{"x":{"field":"cat","type":"nominal","scale":{"type":"band","domain":["H0","H1","H2","H3","H4","s1","P0","P1","P2","P3","P4","s2","T0","T1","T2","T3","T4"],"paddingInner":0,"paddingOuter":0.3},"axis":{"title":null,"labelExpr":"substring(datum.value,0,1)=='s' ? '' : ['-','poly I:C','R848','CpGA','mix'][toNumber(substring(datum.value,1,2))]"}},
     "xOffset":{"field":"col","type":"ordinal","scale":{"domain":[2,1,0]}},
     "y":{"field":"v","type":"quantitative","scale":{"domain":[0,725],"zero":false,"nice":false},"axis":{"values":[0,200,400,600,725],"tickCount":20,"labelExpr":"datum.value==725 ? '' : datum.label","format":"d","title":null}},
     "shape":{"field":"grp","type":"nominal","legend":null}}},
   {"transform":[{"aggregate":[{"op":"mean","field":"v","as":"v"}],"groupby":["cat"]},{"filter":"datum.v<800"}],"mark":{"type":"tick","color":"#333","thickness":1,"size":15},
    "encoding":{"x":{"field":"cat","type":"nominal"},"y":{"field":"v","type":"quantitative"}}}
  ]},
 {"width":300,"height":135,"layer":[
  {"data":{"name":"sig"},"transform":[{"filter":"datum.panel=='IFNl2'"},{"lookup":"k","from":{"data":{"name":"struct"},"key":"k","fields":["lvl","from","to","mid"]}}],
   "mark":{"type":"rule","strokeDash":[2,1.5],"color":"#666","strokeWidth":0.8,"xOffset":3,"x2Offset":-3},
   "encoding":{"x":{"field":"from","type":"nominal","scale":{"type":"band","domain":["H0","H1","H2","H3","H4","s1","P0","P1","P2","P3","P4","s2","T0","T1","T2","T3","T4"],"paddingInner":0,"paddingOuter":0.3},"axis":null},"x2":{"field":"to"},"y":{"field":"lvl","type":"quantitative","scale":{"domain":[-4.222,10.778],"reverse":true,"zero":false,"nice":false},"axis":null}}},
  {"data":{"name":"sig"},"transform":[{"filter":"datum.panel=='IFNl2'"},{"lookup":"k","from":{"data":{"name":"struct"},"key":"k","fields":["lvl","from","to","mid"]}}],
   "mark":{"type":"text","fontSize":8,"fill":"#333","baseline":"alphabetic","dy":-1.5},
   "encoding":{"x":{"field":"mid","type":"nominal","axis":null},"y":{"field":"lvl","type":"quantitative","axis":null},"text":{"field":"label"}}},
  {"data":{"name":"stars"},"transform":[{"filter":"datum.panel=='IFNl2'"}],"mark":{"type":"text","fontSize":9,"dx":3,"baseline":"middle","fill":"#111"},
   "encoding":{"x":{"field":"cat","type":"nominal","axis":null},"y":{"datum":11.44,"type":"quantitative"},"text":{"field":"label"}}},
  {"data":{"values":[{}]},"mark":{"type":"text","text":"IFNλ2","font":"Lato","fontSize":17,"align":"left","baseline":"middle","dx":-56,"fill":"#111"},
   "encoding":{"x":{"datum":"H0","type":"nominal"},"y":{"datum":4.889,"type":"quantitative"}}}
 ]},
 {"width":300,"height":37,"data":{"name":"ifnl2"},
  "transform":[{"calculate":"substring(datum.cat,0,1)","as":"grp"},{"window":[{"op":"row_number","as":"rn"}],"groupby":["cat"],"sort":[{"field":"v"}]},{"calculate":"datum.rn%3","as":"col"}],
  "layer":[
   {"transform":[{"filter":"datum.v>=1600"}],"mark":{"type":"point","filled":true,"size":34,"color":"#1a1a1a","opacity":1},
    "encoding":{"x":{"field":"cat","type":"nominal","scale":{"type":"band","domain":["H0","H1","H2","H3","H4","s1","P0","P1","P2","P3","P4","s2","T0","T1","T2","T3","T4"],"paddingInner":0,"paddingOuter":0.3},"axis":null},
     "xOffset":{"field":"col","type":"ordinal","scale":{"domain":[2,1,0]}},
     "y":{"field":"v","type":"quantitative","scale":{"domain":[1470,8000],"zero":false,"nice":false},"axis":{"values":[2000,4000,6000,8000],"tickCount":20,"format":"d","title":null}},
     "shape":{"field":"grp","type":"nominal","legend":null}}},
   {"transform":[{"aggregate":[{"op":"mean","field":"v","as":"v"}],"groupby":["cat"]},{"filter":"datum.v>=1600"}],"mark":{"type":"tick","color":"#333","thickness":1,"size":15},
    "encoding":{"x":{"field":"cat","type":"nominal","axis":null},"y":{"field":"v","type":"quantitative"}}}
  ]},
 {"width":300,"height":42,"data":{"name":"ifnl2"},
  "transform":[{"calculate":"substring(datum.cat,0,1)","as":"grp"},{"window":[{"op":"row_number","as":"rn"}],"groupby":["cat"],"sort":[{"field":"v"}]},{"calculate":"datum.rn%3","as":"col"}],
  "layer":[
   {"transform":[{"filter":"datum.v>=495 && datum.v<1600"}],"mark":{"type":"point","filled":true,"size":34,"color":"#1a1a1a","opacity":1},
    "encoding":{"x":{"field":"cat","type":"nominal","scale":{"type":"band","domain":["H0","H1","H2","H3","H4","s1","P0","P1","P2","P3","P4","s2","T0","T1","T2","T3","T4"],"paddingInner":0,"paddingOuter":0.3},"axis":null},
     "xOffset":{"field":"col","type":"ordinal","scale":{"domain":[2,1,0]}},
     "y":{"field":"v","type":"quantitative","scale":{"domain":[365,1530],"zero":false,"nice":false},"axis":{"values":[365,500,1000,1500],"tickCount":20,"labelExpr":"datum.value==365 ? '' : datum.label","format":"d","title":"IFNλ2 (pg mL-1)","titleX":-33,"titleY":18}},
     "shape":{"field":"grp","type":"nominal","legend":null}}},
   {"transform":[{"aggregate":[{"op":"mean","field":"v","as":"v"}],"groupby":["cat"]},{"filter":"datum.v>=495 && datum.v<1600"}],"mark":{"type":"tick","color":"#333","thickness":1,"size":15},
    "encoding":{"x":{"field":"cat","type":"nominal","axis":null},"y":{"field":"v","type":"quantitative"}}}
  ]},
 {"width":300,"height":33,"data":{"name":"ifnl2"},
  "transform":[{"calculate":"substring(datum.cat,0,1)","as":"grp"},{"window":[{"op":"row_number","as":"rn"}],"groupby":["cat"],"sort":[{"field":"v"}]},{"calculate":"datum.rn%3","as":"col"}],
  "layer":[
   {"transform":[{"filter":"datum.v<495"}],"mark":{"type":"point","filled":true,"size":34,"color":"#1a1a1a","opacity":1},
    "encoding":{"x":{"field":"cat","type":"nominal","scale":{"type":"band","domain":["H0","H1","H2","H3","H4","s1","P0","P1","P2","P3","P4","s2","T0","T1","T2","T3","T4"],"paddingInner":0,"paddingOuter":0.3},"axis":{"title":null,"labelExpr":"substring(datum.value,0,1)=='s' ? '' : ['-','poly I:C','R848','CpGA','mix'][toNumber(substring(datum.value,1,2))]"}},
     "xOffset":{"field":"col","type":"ordinal","scale":{"domain":[2,1,0]}},
     "y":{"field":"v","type":"quantitative","scale":{"domain":[0,490],"zero":false,"nice":false},"axis":{"values":[0,200,400,490],"tickCount":20,"labelExpr":"datum.value==490 ? '' : datum.label","format":"d","title":null}},
     "shape":{"field":"grp","type":"nominal","legend":null}}},
   {"transform":[{"aggregate":[{"op":"mean","field":"v","as":"v"}],"groupby":["cat"]},{"filter":"datum.v<495"}],"mark":{"type":"tick","color":"#333","thickness":1,"size":15},
    "encoding":{"x":{"field":"cat","type":"nominal"},"y":{"field":"v","type":"quantitative"}}}
  ]},
 {"width":300,"height":45,"data":{"name":"groups"},"layer":[
  {"mark":{"type":"rule","color":"#222","strokeWidth":1.3,"xOffset":-7,"x2Offset":2},
   "encoding":{"x":{"field":"from","type":"nominal","scale":{"type":"band","domain":["H0","H1","H2","H3","H4","s1","P0","P1","P2","P3","P4","s2","T0","T1","T2","T3","T4"],"paddingInner":0,"paddingOuter":0.3},"axis":null},"x2":{"field":"to"},"y":{"datum":1.867,"type":"quantitative","scale":{"domain":[0,3],"reverse":true,"zero":false,"nice":false},"axis":null}}},
  {"mark":{"type":"text","baseline":"top","fontSize":15,"font":"Lato","lineBreak":"\n","lineHeight":20,"dx":-5,"fill":"#111"},
   "encoding":{"x":{"field":"mid","type":"nominal","axis":null},"y":{"datum":2.67,"type":"quantitative"},"text":{"field":"label"}}}
 ]}
],"spacing":10,"bounds":"flush"}
]
}
